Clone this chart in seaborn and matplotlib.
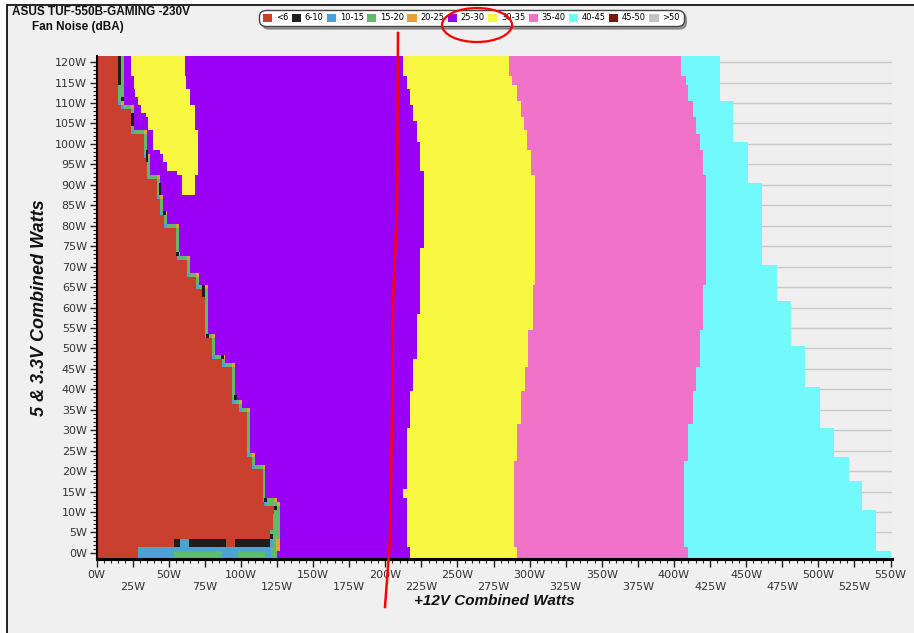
import numpy as np
import matplotlib
matplotlib.use("Agg")
import matplotlib.pyplot as plt
import seaborn as sns
from matplotlib.colors import ListedColormap
from matplotlib.patches import Patch, Rectangle, Ellipse
from matplotlib.lines import Line2D

# noise classes (dBA) and their colours
classes = ["<6", "6-10", "10-15", "15-20", "20-25", "25-30", "30-35", "35-40", "40-45", "45-50", ">50"]
colors = ["#c9412e", "#1e1e1e", "#4ba3d3", "#62b96c", "#e3a234", "#9a00f6",
          "#f8f843", "#f172c9", "#72f9fc", "#761a0c", "#c3c3c3"]

# zone edges on the +12V axis (W); each value holds from the 5V/3.3V load in *_from up to the previous entry
red_from = [111, 110, 104, 98, 93, 88, 84, 81, 74, 73, 69, 66, 54, 49, 47, 38, 36, 25, 22, 14, 13, 10, 6, 4, 2, 1, -1]
red_x = [15, 17, 24, 33, 35, 42, 44, 47, 55, 56, 63, 69, 75, 80, 87, 94, 99, 104, 108, 115, 116, 123, 122, 120, 54, 29, 29]
band_x = [19, 19, 26, 35, 37, 44, 46, 49, 57, 58, 65, 71, 77, 82, 89, 96, 101, 106, 110, 117, 125, 127, 127, 127, 127, 127, 125]

yel_from = [117, 114, 110, 106, 101, 94, 75, 59, 48, 40, 31, 16, 14, 2, -1]
yel_x = [212, 215, 217, 219, 222, 224, 227, 224, 222, 219, 217, 215, 212, 215, 217]

pink_from = [117, 115, 111, 107, 104, 99, 93, 66, 55, 46, 40, 32, 23, 2, -1]
pink_x = [286, 288, 291, 294, 296, 298, 301, 304, 302, 299, 297, 294, 291, 289, 291]

cyan_from = [117, 115, 111, 107, 103, 99, 93, 66, 55, 46, 40, 32, 23, 2, -1]
cyan_x = [405, 408, 410, 413, 415, 418, 420, 422, 420, 418, 415, 413, 410, 407, 410]

end_from = [111, 101, 91, 71, 62, 51, 41, 31, 24, 18, 11, 1, -1]
end_x = [432, 441, 451, 461, 471, 481, 491, 501, 511, 521, 530, 540, 550]

# 30-35 dBA island at low 12V load
isl_from = [117, 114, 112, 110, 108, 107, 104, 99, 98, 96, 94, 93, 88]
isl_x0 = [24, 26, 27, 29, 31, 34, 36, 39, 44, 46, 49, 56, 59]
isl_x1 = [61, 62, 65, 65, 68, 68, 68, 70, 70, 70, 70, 70, 68]

# 6-10 dBA spots: (first row, last row, from W, to W)
black_cells = [(115, 121, 15, 17), (111, 111, 17, 19), (105, 107, 24, 26), (96, 98, 34, 36),
               (88, 90, 43, 45), (83, 83, 46, 48), (73, 73, 55, 57), (63, 65, 73, 75),
               (53, 53, 76, 78), (48, 48, 86, 88), (38, 38, 95, 97), (13, 13, 116, 118),
               (11, 11, 123, 125), (4, 4, 120, 122)]

# bottom rows: (first row, last row, from W, to W, class index)
floor_cells = [(-1, 0, 29, 54, 2), (-1, 0, 54, 87, 3), (-1, 0, 87, 98, 2), (-1, 0, 98, 117, 3),
               (-1, 0, 117, 121, 2), (-1, 0, 121, 125, 3),
               (1, 1, 29, 121, 2), (1, 1, 121, 124, 3), (1, 1, 124, 127, 4),
               (2, 3, 54, 58, 1), (2, 3, 58, 64, 2), (2, 3, 64, 90, 1), (2, 3, 90, 96, 0),
               (2, 3, 96, 120, 1), (2, 3, 120, 122, 2), (2, 3, 122, 124, 3), (2, 3, 124, 127, 4)]

rows = np.arange(-1, 122)   # 5V & 3.3V load, 1W rows
ncols = 551                 # +12V load, 1W columns


def step(froms, vals, y):
    for f, v in zip(froms, vals):
        if y >= f:
            return v
    return vals[-1]


grid = np.full((len(rows), ncols), np.nan)
for i, y in enumerate(rows):
    r = step(red_from, red_x, y)
    r0 = min(r, step(red_from, red_x, y + 1))
    b = step(red_from, band_x, y)
    row = grid[i]
    row[:step(end_from, end_x, y)] = 8
    row[:step(cyan_from, cyan_x, y)] = 7
    row[:step(pink_from, pink_x, y)] = 6
    row[:step(yel_from, yel_x, y)] = 5
    row[:b] = 3
    if r0 < r:
        row[r0:r0 + 2] = 2
        row[b - 2:b] = 4
    row[:r0] = 0

for k, lo in enumerate(isl_from):
    hi = isl_from[k - 1] - 1 if k > 0 else 121
    for y in range(lo, hi + 1):
        grid[y + 1, isl_x0[k]:isl_x1[k]] = 6

for y0, y1, x0, x1, c in floor_cells:
    grid[y0 + 1:y1 + 2, x0:x1] = c
for y0, y1, x0, x1 in black_cells:
    grid[y0 + 1:y1 + 2, x0:x1] = 1

W, H = 914, 633
fig = plt.figure(figsize=(W / 100, H / 100), dpi=100, facecolor="white")
fig.patches.append(Rectangle((7 / W, -0.1), 1.2, 1.1 - 5 / H, transform=fig.transFigure,
                             facecolor="#f0f0f0", edgecolor="black", lw=1.2, zorder=-10))

ax = fig.add_axes([96.5 / W, (H - 559) / H, (892 - 96.5) / W, (559 - 56) / H])
sns.heatmap(grid, cmap=ListedColormap(colors), vmin=-0.5, vmax=10.5, cbar=False, ax=ax,
            xticklabels=False, yticklabels=False)
ax.set_facecolor("#efefef")
ax.set_xlim(0, ncols)
ax.set_ylim(0, len(rows))

# ticks
xt = np.arange(0, 551, 25)
ax.set_xticks(xt)
ax.set_xticklabels([f"{v}W" if (v // 25) % 2 == 0 else f"\n{v}W" for v in xt])
ax.set_xticks(np.arange(0, 551, 5), minor=True)
yt = np.arange(0, 121, 5)
ax.set_yticks(yt + 1.5)
ax.set_yticklabels([f"{v}W" for v in yt])
ax.set_yticks(np.arange(0, 121, 1) + 1.5, minor=True)
ax.tick_params(axis="both", which="major", length=5, width=1, color="#222", labelsize=8,
               labelcolor="#333", pad=2)
ax.tick_params(axis="both", which="minor", length=3, width=0.8, color="#222")
ax.tick_params(axis="x", which="major", length=6)

for s in ["left", "bottom"]:
    ax.spines[s].set_visible(True)
    ax.spines[s].set_color("black")
ax.spines["left"].set_linewidth(1.5)
ax.spines["bottom"].set_linewidth(2.2)
ax.set_axisbelow(True)
ax.yaxis.grid(True, color="#c8c8c8", lw=1)
ax.xaxis.grid(False)

ax.set_xlabel("+12V Combined Watts", fontsize=11, fontweight="bold", fontstyle="italic",
              family="Liberation Sans", color="#111", labelpad=2)
ax.set_ylabel("5 & 3.3V Combined Watts", fontsize=13, fontweight="bold", fontstyle="italic",
              family="Liberation Sans", color="#111", labelpad=5)

fig.text(12 / W, 1 - 6 / H, "ASUS TUF-550B-GAMING -230V", fontsize=8.5, fontweight="bold",
         family="Liberation Sans", va="top", color="#111")
fig.text(32 / W, 1 - 21 / H, "Fan Noise (dBA)", fontsize=8.5, fontweight="bold",
         family="Liberation Sans", va="top", color="#111")

handles = [Patch(facecolor=c, edgecolor="none", label=l) for c, l in zip(colors, classes)]
leg = fig.legend(handles=handles, ncol=len(classes), loc="center",
                 bbox_to_anchor=(471.5 / W, 1 - 18 / H), fontsize=6, handlelength=1.1,
                 handleheight=1.1, handletextpad=0.45, columnspacing=0.4, borderpad=0.25,
                 fancybox=True, shadow=True, framealpha=1, edgecolor="#444")
leg.get_frame().set_boxstyle("round", pad=0.2, rounding_size=0.8)

# red hand-drawn marks on the original screenshot
fig.add_artist(Ellipse((477 / W, 1 - 25 / H), 70 / W, 34 / H, transform=fig.transFigure,
                       fill=False, edgecolor="red", lw=1.6, zorder=20))
px = [398, 397, 393, 392, 390, 385]
py = [33, 210, 300, 420, 540, 607]
fig.add_artist(Line2D([p / W for p in px], [1 - p / H for p in py], transform=fig.transFigure,
                      color="red", lw=1.8, zorder=20))

fig.savefig("out.png", dpi=100, facecolor=fig.get_facecolor())
